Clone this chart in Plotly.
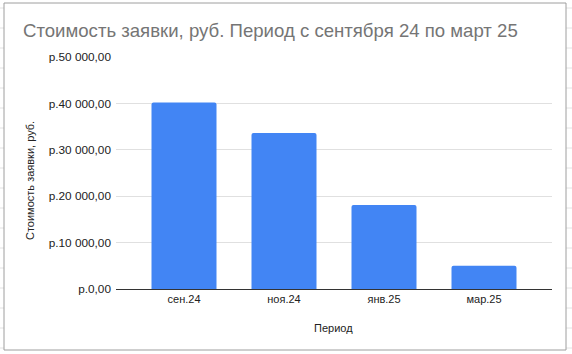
import plotly.graph_objects as go

categories = ["сен.24", "ноя.24", "янв.25", "мар.25"]
values = [40200, 33600, 18100, 5000]
tick_vals = [0, 10000, 20000, 30000, 40000, 50000]
tick_text = ["р.0,00", "р.10 000,00", "р.20 000,00", "р.30 000,00", "р.40 000,00", "р.50 000,00"]
title_text = "Стоимость заявки, руб. Период с сентября 24 по март 25"
y_title = "Стоимость заявки, руб."
x_title = "Период"

fig = go.Figure()
fig.add_trace(go.Bar(x=list(range(len(categories))), y=values,
                     marker=dict(color="#4285F4", line=dict(width=0))))

W, H = 572, 354
L, R, T, B = 116, 20, 57, 65

shapes = []
# spreadsheet grid outside chart
for y in range(8, H, 20):
    shapes.append(dict(type="line", xref="paper", yref="paper", layer="below",
                       x0=-L / (W - L - R), x1=(-L + 4) / (W - L - R),
                       y0=(H - B - y) / (H - T - B), y1=(H - B - y) / (H - T - B),
                       line=dict(color="#e2e2e2", width=1)))
    shapes.append(dict(type="line", xref="paper", yref="paper", layer="below",
                       x0=(W - L - 6) / (W - L - R), x1=(W - L) / (W - L - R),
                       y0=(H - B - y) / (H - T - B), y1=(H - B - y) / (H - T - B),
                       line=dict(color="#e2e2e2", width=1)))
# chart border
shapes.append(dict(type="rect", xref="paper", yref="paper",
                   x0=(4 - L) / (W - L - R), x1=(566 - L) / (W - L - R),
                   y0=(H - B - 350) / (H - T - B), y1=(H - B - 3) / (H - T - B),
                   line=dict(color="#9e9e9e", width=1), layer="below"))

fig.update_layout(
    width=W, height=H,
    margin=dict(l=L, r=R, t=T, b=B),
    paper_bgcolor="white", plot_bgcolor="white",
    bargap=0.35,
    barcornerradius=2,
    showlegend=False,
    font=dict(family="Arial, Liberation Sans, sans-serif", color="#222222", size=11),
    title=dict(text=title_text, x=23 / W, xanchor="left", y=1 - 30 / H, yanchor="middle",
               font=dict(size=18.6, color="#757575", family="Arial, Liberation Sans, sans-serif")),
    xaxis=dict(tickmode="array", tickvals=list(range(len(categories))), ticktext=categories,
               range=[-0.68, 3.68], showgrid=False, showline=True, linecolor="#333333",
               linewidth=1, ticks="", tickfont=dict(size=11, color="#222222"),
               zeroline=False, fixedrange=True),
    yaxis=dict(tickmode="array", tickvals=tick_vals, ticktext=tick_text, range=[0, 50000],
               showgrid=True, gridcolor="#e0e0e0", gridwidth=1, zeroline=False,
               showline=False, ticks="", tickfont=dict(size=11.8, color="#222222"),
               ticklabelstandoff=4),
    shapes=shapes,
    annotations=[
        dict(text=y_title, xref="paper", yref="paper", x=(30 - L) / (W - L - R),
             y=(H - B - 181) / (H - T - B), showarrow=False, textangle=-90,
             xanchor="center", yanchor="middle", font=dict(size=11, color="#222222")),
        dict(text=x_title, xref="paper", yref="paper", x=(333 - L) / (W - L - R),
             y=(H - B - 328) / (H - T - B), showarrow=False,
             xanchor="center", yanchor="middle", font=dict(size=11, color="#222222")),
    ],
)
fig.write_html("out.html")
